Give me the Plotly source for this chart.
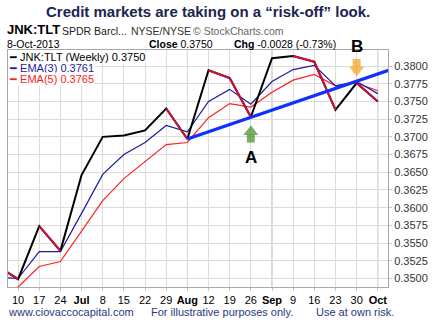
import plotly.graph_objects as go

# ---------------- data ----------------
weeks = ["2013-06-03", "2013-06-10", "2013-06-17", "2013-06-24", "2013-07-01",
         "2013-07-08", "2013-07-15", "2013-07-22", "2013-07-29", "2013-08-05",
         "2013-08-12", "2013-08-19", "2013-08-26", "2013-09-02", "2013-09-09",
         "2013-09-16", "2013-09-23", "2013-09-30", "2013-10-07"]
close = [0.3518, 0.3499, 0.3574, 0.3539, 0.3646, 0.3700, 0.3702, 0.3709, 0.3740, 0.3697,
         0.3794, 0.3783, 0.3728, 0.3811, 0.3814, 0.3806, 0.3738, 0.3776, 0.3750]
ema3 = [0.3502, 0.3500, 0.3538, 0.3538, 0.3592, 0.3647, 0.3675, 0.3692, 0.3716, 0.3707,
        0.3750, 0.3767, 0.3746, 0.3778, 0.3795, 0.3801, 0.3772, 0.3778, 0.3761]
ema5 = [0.3482, 0.3488, 0.3517, 0.3524, 0.3567, 0.3610, 0.3641, 0.3665, 0.3689, 0.3692,
        0.3727, 0.3747, 0.3742, 0.3763, 0.3780, 0.3788, 0.3772, 0.3776, 0.3765]

tick_dates = weeks[1:]
tick_labels = ["10", "17", "24", "<b>Jul</b>", "8", "15", "22", "29", "<b>Aug</b>",
               "12", "19", "26", "<b>Sep</b>", "9", "16", "23", "30", "<b>Oct</b>"]
month_dates = ["2013-07-01", "2013-08-05", "2013-09-02", "2013-10-07"]

trend_x = ["2013-08-05", "2013-10-14"]
trend_y = [0.3697, 0.3799]

point_a = "2013-08-26"
point_b = "2013-09-30"
chg = -0.0028
chg_pct = -0.73

# ---------------- layout geometry ----------------
W, H = 435, 325
ML, MR, MT, MB = 7, 38, 50, 38
PW, PH = W - ML - MR, H - MT - MB
Y_RANGE = [0.3488, 0.38226]
X_RANGE = ["2013-06-06 16:00", "2013-10-10 09:00"]
val_per_px = (Y_RANGE[1] - Y_RANGE[0]) / PH

def px(x):
    return (x - ML) / PW

def py(y):
    return (H - MB - y) / PH

FONT = "Liberation Sans, Arial, sans-serif"

fig = go.Figure()

fig.add_trace(go.Scatter(x=weeks, y=ema5, mode="lines",
                         line=dict(color="#ff2020", width=1.2)))
fig.add_trace(go.Scatter(x=weeks, y=ema3, mode="lines",
                         line=dict(color="#1c1c9c", width=1.2)))
fig.add_trace(go.Scatter(x=weeks, y=close, mode="lines",
                         line=dict(color="black", width=2)))

# falling segments of the price line in crimson
dx, dy = [], []
for i in range(1, len(close)):
    if close[i] < close[i - 1]:
        dx += [weeks[i - 1], weeks[i], None]
        dy += [close[i - 1], close[i], None]
fig.add_trace(go.Scatter(x=dx, y=dy, mode="lines",
                         line=dict(color="#d0103c", width=2)))

# trendline
fig.add_trace(go.Scatter(x=trend_x, y=trend_y, mode="lines",
                         line=dict(color="#1030ff", width=3.2)))

# arrows
ia = weeks.index(point_a)
ib = weeks.index(point_b)
va, vb = close[ia], close[ib]
fig.add_trace(go.Scatter(x=[point_a, point_a],
                         y=[va - 14.75 * val_per_px, va - 21.5 * val_per_px],
                         mode="markers", cliponaxis=False,
                         marker=dict(symbol=["triangle-up", "square"], size=[13, 8],
                                     color="#3f9020", line=dict(width=0))))
fig.add_trace(go.Scatter(x=[point_b, point_b],
                         y=[vb + 13 * val_per_px, vb + 20 * val_per_px],
                         mode="markers", cliponaxis=False,
                         marker=dict(symbol=["triangle-down", "square"], size=[13, 8],
                                     color="#f5a01a", line=dict(width=0))))

ann = []
ann.append(dict(x=point_a, y=va, xref="x", yref="y", yshift=-40, text="<b>A</b>",
                showarrow=False, font=dict(size=17, color="black", family=FONT)))
ann.append(dict(x=point_b, y=vb, xref="x", yref="y", yshift=37, text="<b>B</b>",
                showarrow=False, font=dict(size=17, color="black", family=FONT)))

def txt(x, y, t, size=11, color="black", anchor="left", bg=None):
    d = dict(x=px(x), y=py(y), xref="paper", yref="paper", text=t, showarrow=False,
             xanchor=anchor, yanchor="middle", font=dict(size=size, color=color, family=FONT),
             borderpad=0)
    if bg:
        d["bgcolor"] = bg
    ann.append(d)

txt(212, 12, "<b>Credit markets are taking on a \u201crisk-off\u201d look.</b>", 15, "#1b2550", "center")
txt(5, 30, "<b>JNK:TLT</b>", 13)
txt(61, 30.5, "SPDR Barcl...", 10.5, "#222")
txt(132, 30.5, "NYSE/NYSE", 10.5, "#333")
txt(196, 30.5, "\u00a9 StockCharts.com", 10.5, "#666")
txt(5, 43.5, "8-Oct-2013", 10.5)
txt(151, 43.5, "<b>Close</b> %.4f" % close[-1], 10.5)
txt(238, 43.5, "<b>Chg</b> %.4f (%.2f%%)" % (chg, chg_pct), 10.5)

txt(7, 57, "\u2501 JNK:TLT (Weekly) %.4f" % close[-1], 11, "black", bg="white")
txt(7, 68, "<span style='color:#1c1c9c'>\u2501 EMA(3) %.4f</span>" % ema3[-1], 11, "#1c1c9c", bg="white")
txt(7, 78.5, "<span style='color:#ff2020'>\u2501 EMA(5) %.4f</span>" % ema5[-1], 11, "#ff2020", bg="white")

txt(6, 312, "www.ciovaccocapital.com", 11, "#1f3a80")
txt(153, 312, "For illustrative purposes only.", 11, "#1f3a80")
txt(322, 312, "Use at own risk.", 11, "#1f3a80")

shapes = [dict(type="line", xref="x", yref="paper", x0=d, x1=d, y0=0, y1=1,
               line=dict(color="#b4b4b4", width=1), layer="below") for d in month_dates]

fig.update_layout(
    width=W, height=H, margin=dict(l=ML, r=MR, t=MT, b=MB),
    paper_bgcolor="white", plot_bgcolor="white", showlegend=False,
    annotations=ann, shapes=shapes,
    xaxis=dict(type="date", range=X_RANGE, tickvals=tick_dates, ticktext=tick_labels,
               showgrid=True, gridcolor="#dcdcdc", gridwidth=1, zeroline=False,
               showline=True, linecolor="#a8a8a8", mirror=True,
               ticks="outside", ticklen=3, tickcolor="#c8c8c8",
               tickfont=dict(size=11, color="black", family=FONT)),
    yaxis=dict(range=Y_RANGE, side="right", tick0=0.35, dtick=0.0025, tickformat=".4f",
               showgrid=True, gridcolor="#dcdcdc", gridwidth=1, zeroline=False,
               showline=True, linecolor="#a8a8a8", mirror=True,
               ticks="outside", ticklen=3, tickcolor="#c8c8c8",
               tickfont=dict(size=11, color="#333", family=FONT)),
)

fig.write_html("out.html")
